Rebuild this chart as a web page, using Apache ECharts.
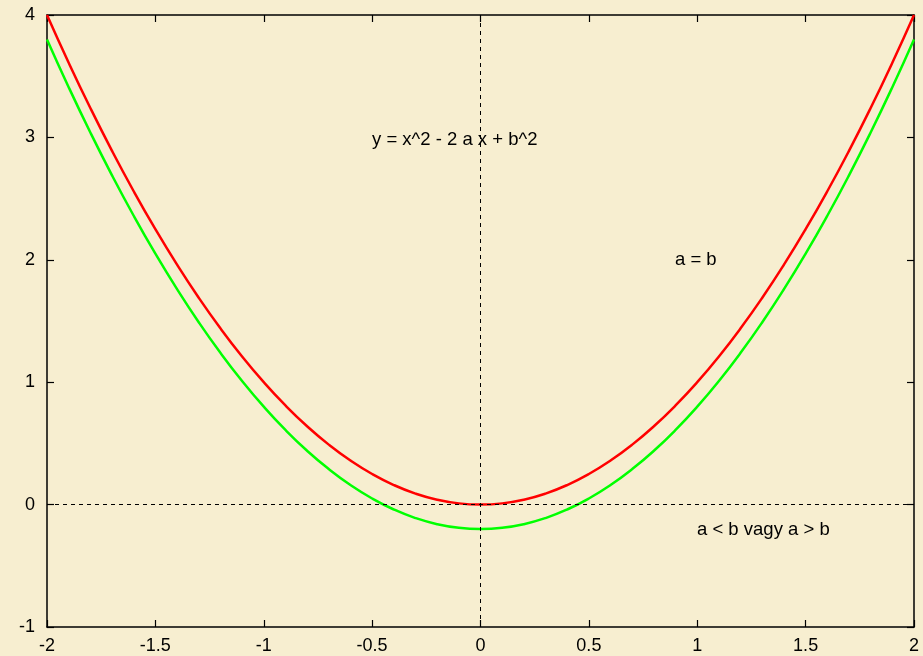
<!DOCTYPE html>
<html>
<head>
<meta charset="utf-8">
<script src="https://cdn.jsdelivr.net/npm/echarts@6/dist/echarts.min.js"></script>
<style>
html, body { margin: 0; padding: 0; background: #f7eed0; }
#chart { width: 923px; height: 656px; }
</style>
</head>
<body>
<div id="chart"></div>
<script>
// x positions
var xs = [-2, -1.9, -1.8, -1.7, -1.6, -1.5, -1.4, -1.3, -1.2, -1.1, -1, -0.9, -0.8, -0.7, -0.6, -0.5, -0.4, -0.3, -0.2, -0.1, 0,
          0.1, 0.2, 0.3, 0.4, 0.5, 0.6, 0.7, 0.8, 0.9, 1, 1.1, 1.2, 1.3, 1.4, 1.5, 1.6, 1.7, 1.8, 1.9, 2];
// a = b (red)
var redYs = [4, 3.61, 3.24, 2.89, 2.56, 2.25, 1.96, 1.69, 1.44, 1.21, 1, 0.81, 0.64, 0.49, 0.36, 0.25, 0.16, 0.09, 0.04, 0.01, 0,
             0.01, 0.04, 0.09, 0.16, 0.25, 0.36, 0.49, 0.64, 0.81, 1, 1.21, 1.44, 1.69, 1.96, 2.25, 2.56, 2.89, 3.24, 3.61, 4];
// a < b vagy a > b (green)
var greenYs = [3.8, 3.41, 3.04, 2.69, 2.36, 2.05, 1.76, 1.49, 1.24, 1.01, 0.8, 0.61, 0.44, 0.29, 0.16, 0.05, -0.04, -0.11, -0.16, -0.19, -0.2,
               -0.19, -0.16, -0.11, -0.04, 0.05, 0.16, 0.29, 0.44, 0.61, 0.8, 1.01, 1.24, 1.49, 1.76, 2.05, 2.36, 2.69, 3.04, 3.41, 3.8];
var labels = ['y = x^2 - 2 a x + b^2', 'a = b', 'a < b vagy a > b'];

function pairs(ys) {
    return xs.map(function (x, i) { return [x, ys[i]]; });
}

var font = 'Liberation Sans, Arial, sans-serif';
var axisLine = { onZero: false, lineStyle: { color: '#000', width: 1.5 } };
var axisTick = { inside: true, length: 7, lineStyle: { color: '#000', width: 1.2 } };

var myChart = echarts.init(document.getElementById('chart'));
option = {
    backgroundColor: '#f7eed0',
    animation: false,
    grid: { left: 47, top: 15, right: 9, bottom: 29 },
    xAxis: [
        {
            type: 'value', min: -2, max: 2, interval: 0.5,
            axisLine: axisLine, axisTick: axisTick, splitLine: { show: false },
            axisLabel: { color: '#000', fontSize: 18, fontFamily: font, margin: 10 }
        },
        {
            type: 'value', position: 'top', min: -2, max: 2, interval: 0.5,
            axisLine: axisLine, axisTick: axisTick, splitLine: { show: false },
            axisLabel: { show: false }
        }
    ],
    yAxis: [
        {
            type: 'value', min: -1, max: 4, interval: 1,
            axisLine: axisLine, axisTick: axisTick, splitLine: { show: false },
            axisLabel: { color: '#000', fontSize: 18, fontFamily: font, margin: 12 }
        },
        {
            type: 'value', position: 'right', min: -1, max: 4, interval: 1,
            axisLine: axisLine, axisTick: axisTick, splitLine: { show: false },
            axisLabel: { show: false }
        }
    ],
    graphic: [
        { type: 'text', left: 372, top: 130, style: { text: labels[0], font: '18.5px ' + font, fill: '#000' } },
        { type: 'text', left: 675, top: 250, style: { text: labels[1], font: '18.5px ' + font, fill: '#000' } },
        { type: 'text', left: 697, top: 520, style: { text: labels[2], font: '18.5px ' + font, fill: '#000' } }
    ],
    series: [
        {
            name: 'a = b',
            type: 'line',
            data: pairs(redYs),
            smooth: true,
            showSymbol: false,
            lineStyle: { color: '#ff0000', width: 2.5 },
            z: 3,
            markLine: {
                silent: true,
                symbol: 'none',
                label: { show: false },
                lineStyle: { color: '#000', width: 1, type: [4, 4] },
                data: [{ xAxis: 0 }, { yAxis: 0 }]
            }
        },
        {
            name: 'a < b vagy a > b',
            type: 'line',
            data: pairs(greenYs),
            smooth: true,
            showSymbol: false,
            lineStyle: { color: '#00ff00', width: 2.5 },
            z: 3
        }
    ]
};
myChart.setOption(option);
</script>
</body>
</html>
